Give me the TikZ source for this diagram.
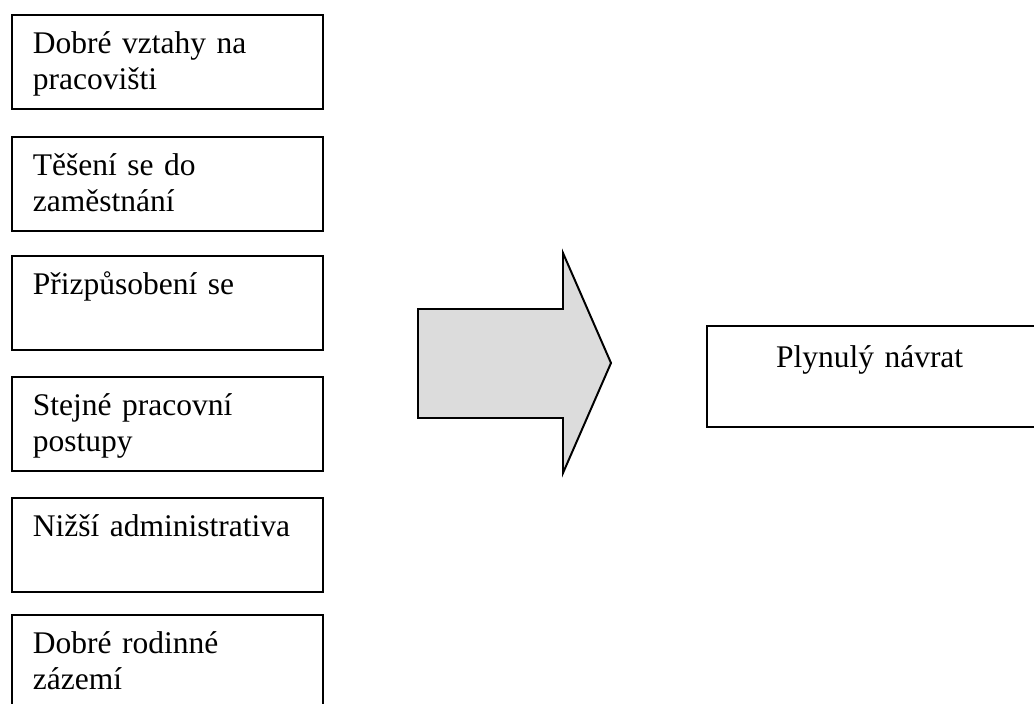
\documentclass[tikz,border=0pt]{standalone}
\usepackage{fontspec}
\setmainfont{Liberation Serif}
\definecolor{ArrowClr}{RGB}{220,220,220}

\begin{document}
\begin{tikzpicture}[x=0.381pt,y=-0.381pt,
  faktor/.style={draw,line width=0.75pt,anchor=north west,
    font=\fontsize{12}{13.8}\selectfont,text width=102.5pt,align=left,
    inner xsep=8pt,inner ysep=6.5pt,text height=8pt,text depth=14.8pt},
  vysledek/.style={draw,line width=0.75pt,anchor=north west,
    font=\fontsize{12}{13.8}\selectfont,text width=80pt,align=left,
    inner xsep=26.3pt,inner ysep=8pt,text height=8pt,text depth=14.5pt}]
\useasboundingbox (0,0) rectangle (1034,704);
\clip (0,0) rectangle (1034,704);

\node[faktor] (F1) at (11,14) {Dobré vztahy na\\pracovišti};
\node[faktor] (F2) at (11,136) {Těšení se do\\zaměstnání};
\node[faktor] (F3) at (11,255) {Přizpůsobení se};
\node[faktor] (F4) at (11,376) {Stejné pracovní\\postupy};
\node[faktor] (F5) at (11,497) {Nižší administrativa};
\node[faktor] (F6) at (11,614) {Dobré rodinné\\zázemí};

% sipka
\draw[line width=0.75pt,fill=ArrowClr] (418,309) -- (563,309) -- (563,253)
  -- (611,363) -- (563,473) -- (563,418) -- (418,418) -- cycle;

\node[vysledek] (N) at (706,325) {Plynulý návrat};

\end{tikzpicture}
\end{document}
